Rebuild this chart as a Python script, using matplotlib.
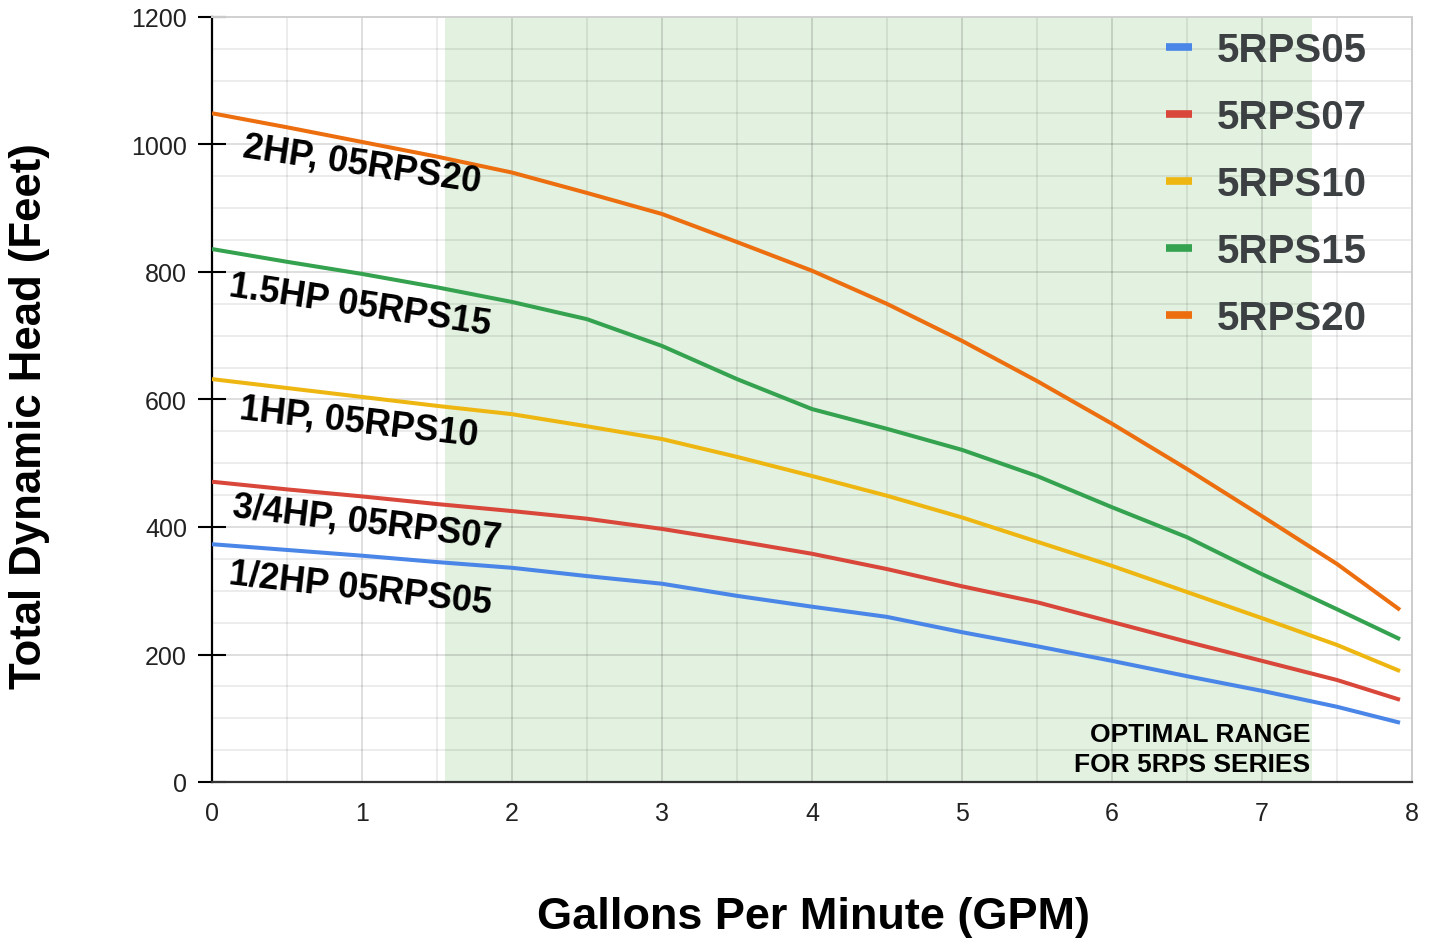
import numpy as np
import matplotlib
matplotlib.use("Agg")
import matplotlib.pyplot as plt
from matplotlib.lines import Line2D
from matplotlib.ticker import MultipleLocator

plt.rcParams['font.family'] = 'sans-serif'
plt.rcParams['font.sans-serif'] = ['Liberation Sans', 'DejaVu Sans']

# flow (GPM) where the curves were read
gpm = [0, 0.5, 1, 1.5, 2, 2.5, 3, 3.5, 4, 4.5, 5, 5.5, 6, 6.5, 7, 7.5, 7.92]

# total dynamic head (feet) per pump model
head_05 = [373, 364, 355, 345, 336, 323, 311, 292, 275, 259, 235, 213, 190, 166, 143, 118, 93]
head_07 = [471, 459, 448, 436, 425, 413, 397, 378, 358, 334, 307, 282, 251, 220, 190, 160, 129]
head_10 = [632, 618, 604, 590, 577, 558, 538, 510, 480, 449, 415, 377, 339, 298, 257, 215, 174]
head_15 = [836, 816, 797, 776, 753, 726, 684, 632, 585, 554, 521, 480, 431, 384, 326, 271, 224]
head_20 = [1049, 1027, 1004, 981, 956, 924, 891, 847, 802, 750, 692, 629, 562, 491, 417, 342, 270]

series_names = ["5RPS05", "5RPS07", "5RPS10", "5RPS15", "5RPS20"]
series_heads = [head_05, head_07, head_10, head_15, head_20]
colors = ["#4a86e8", "#d9463a", "#eeb611", "#34a24f", "#ec6e0f"]

# curve annotations: text, x, y, angle
curve_labels = ["1/2HP 05RPS05", "3/4HP, 05RPS07", "1HP, 05RPS10", "1.5HP 05RPS15", "2HP, 05RPS20"]
label_x = [0.99, 1.03, 0.98, 0.99, 1.0]
label_y = [305, 408, 566, 748, 970]
label_rot = [-6.5, -6.8, -6.5, -8.5, -8.5]

# optimal operating range
optimal_range = (1.55, 7.33)

x_ticks = [0, 1, 2, 3, 4, 5, 6, 7, 8]
y_ticks = [0, 200, 400, 600, 800, 1000, 1200]

fig = plt.figure(figsize=(14.32, 9.45), dpi=100)
ax = fig.add_axes([212 / 1432, 1 - 783 / 945, 1200 / 1432, 765 / 945])

ax.set_xlim(0, 8)
ax.set_ylim(0, 1200)

ax.axvspan(*optimal_range, color="#e2f1e0", zorder=1, lw=0)

for heads, name, c in zip(series_heads, series_names, colors):
    ax.plot(gpm, heads, color=c, lw=2.9, label=name, zorder=3,
            solid_capstyle="butt", solid_joinstyle="round")

for txt, x, y, r in zip(curve_labels, label_x, label_y, label_rot):
    ax.text(x, y, txt, fontsize=26, fontweight="bold", color="black",
            rotation=r, rotation_mode="anchor", ha="center", va="center", zorder=4)

ax.text(optimal_range[1] - 0.01, 10, "OPTIMAL RANGE\nFOR 5RPS SERIES", ha="right", va="bottom",
        fontsize=19, fontweight="bold", linespacing=1.3, zorder=4)

ax.set_xticks(x_ticks)
ax.set_yticks(y_ticks)
ax.xaxis.set_minor_locator(MultipleLocator(0.5))
ax.yaxis.set_minor_locator(MultipleLocator(50))
ax.tick_params(axis="y", which="major", direction="inout", length=20, width=1.5,
               labelsize=18, pad=8, color="black", labelcolor="#222222")
ax.tick_params(axis="x", which="major", length=0, labelsize=18, pad=14, labelcolor="#222222")
ax.tick_params(which="minor", length=0)

# grid, drawn above the shaded range but under the curves
ax.set_axisbelow("line")
ax.grid(which="major", color="#000000", alpha=0.13, lw=1.4)
ax.grid(which="minor", color="#000000", alpha=0.075, lw=1.4)

ax.spines["left"].set_color("black")
ax.spines["left"].set_linewidth(1.6)
ax.spines["bottom"].set_color("#333333")
ax.spines["bottom"].set_linewidth(1.6)
ax.spines["top"].set_color("#d0d0d0")
ax.spines["right"].set_color("#cccccc")
ax.spines["top"].set_linewidth(1.4)
ax.spines["right"].set_linewidth(1.4)

handles = [Line2D([], [], color=c, lw=5.5, solid_capstyle="butt") for c in colors]
ax.legend(handles, series_names, loc="upper right", bbox_to_anchor=(0.962, 0.982),
          frameon=False, handlelength=0.65, handletextpad=0.6, labelspacing=0.72,
          borderpad=0, borderaxespad=0, labelcolor="#3c4043",
          prop={"size": 29, "weight": "bold"})

fig.text(813 / 1432, 1 - 918 / 945, "Gallons Per Minute (GPM)", ha="center", va="center",
         fontsize=32.5, fontweight="bold")
fig.text(30 / 1432, 1 - 416 / 945, "Total Dynamic Head (Feet)", ha="center", va="center",
         rotation=90, fontsize=31.5, fontweight="bold")

fig.savefig("out.png", dpi=100)
